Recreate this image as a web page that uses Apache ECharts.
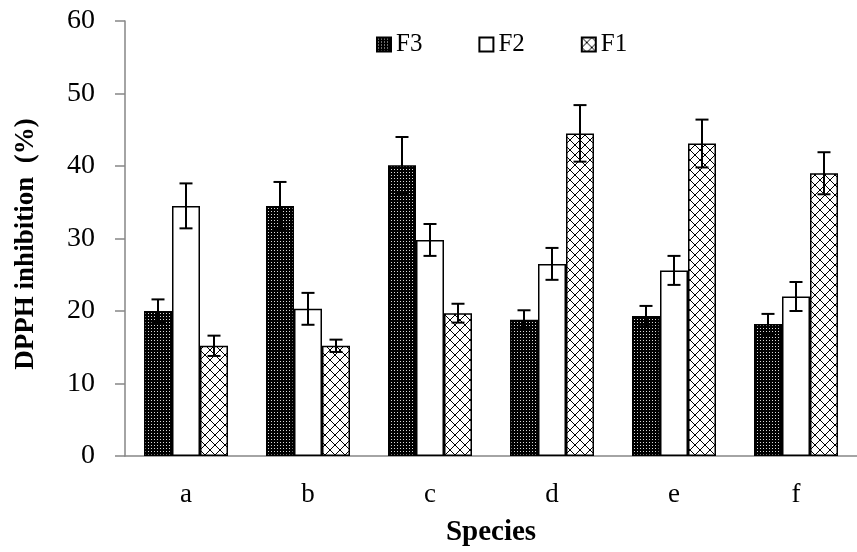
<!DOCTYPE html>
<html>
<head>
<meta charset="utf-8">
<script src="https://cdn.jsdelivr.net/npm/echarts@6/dist/echarts.min.js"></script>
<style>html,body{margin:0;padding:0;background:#fff}#c{width:857px;height:552px}</style>
</head>
<body>
<div id="c"></div>
<script>
const categories = ['a', 'b', 'c', 'd', 'e', 'f'];
const seriesNames = ['F3', 'F2', 'F1'];
const f3Values = [20.0, 34.5, 40.1, 18.8, 19.3, 18.2];
const f2Values = [34.5, 20.3, 29.8, 26.5, 25.6, 22.0];
const f1Values = [15.2, 15.2, 19.7, 44.5, 43.1, 39.0];
const f3Errors = [1.6, 3.3, 3.9, 1.3, 1.4, 1.4];
const f2Errors = [3.1, 2.2, 2.2, 2.2, 2.0, 2.0];
const f1Errors = [1.4, 0.85, 1.3, 3.9, 3.3, 2.9];
const yTicks = { min: 0, max: 60, interval: 10 };

function dotPattern() {
  const c = document.createElement('canvas');
  c.width = 3; c.height = 3;
  const g = c.getContext('2d');
  g.fillStyle = '#000'; g.fillRect(0, 0, 3, 3);
  g.fillStyle = '#d8d8d8'; g.fillRect(1, 1, 1, 1);
  return c;
}
function crossPattern() {
  const c = document.createElement('canvas');
  c.width = 10; c.height = 10;
  const g = c.getContext('2d');
  g.fillStyle = '#fff'; g.fillRect(0, 0, 10, 10);
  g.strokeStyle = '#000'; g.lineWidth = 1;
  g.beginPath();
  g.moveTo(0, 0); g.lineTo(10, 10);
  g.moveTo(10, 0); g.lineTo(0, 10);
  g.stroke();
  return c;
}

const BAR_W = 28;
const valuesList = [f3Values, f2Values, f1Values];
const errorsList = [f3Errors, f2Errors, f1Errors];
const fills = [
  { image: dotPattern(), repeat: 'repeat' },
  '#ffffff',
  { image: crossPattern(), repeat: 'repeat' }
];

const barSeries = seriesNames.map((name, i) => ({
  name: name,
  type: 'bar',
  barWidth: BAR_W,
  barGap: '0%',
  data: valuesList[i],
  itemStyle: { color: fills[i], borderColor: '#000', borderWidth: 1.5 },
  emphasis: { disabled: true },
  z: 2
}));

const errSeries = seriesNames.map((name, i) => ({
  type: 'custom',
  name: name + '_err',
  z: 5,
  silent: true,
  data: categories.map((c, k) => [k, valuesList[i][k], errorsList[i][k]]),
  renderItem: function (params, api) {
    const k = api.value(0), v = api.value(1), e = api.value(2);
    const off = (i - 1) * BAR_W;
    const top = api.coord([k, v + e]);
    const bot = api.coord([k, v - e]);
    const x = top[0] + off;
    const hw = 6.5;
    const st = { stroke: '#000', lineWidth: 2 };
    return {
      type: 'group',
      children: [
        { type: 'line', shape: { x1: x, y1: top[1], x2: x, y2: bot[1] }, style: st },
        { type: 'line', shape: { x1: x - hw, y1: top[1], x2: x + hw, y2: top[1] }, style: st },
        { type: 'line', shape: { x1: x - hw, y1: bot[1], x2: x + hw, y2: bot[1] }, style: st }
      ]
    };
  }
}));

const FONT = '"Liberation Serif", "Times New Roman", serif';
const chart = echarts.init(document.getElementById('c'), null, { renderer: 'canvas' });
chart.setOption({
  animation: false,
  backgroundColor: '#fff',
  textStyle: { fontFamily: FONT },
  legend: {
    data: seriesNames,
    top: 27,
    left: 371,
    icon: 'rect',
    itemWidth: 14,
    itemHeight: 14,
    itemGap: 56,
    textStyle: { fontFamily: FONT, fontSize: 25, color: '#000' }
  },
  grid: { left: 125, top: 21, width: 740, height: 435, containLabel: false },
  xAxis: {
    type: 'category',
    data: categories,
    name: 'Species',
    nameLocation: 'middle',
    nameGap: 62,
    nameTextStyle: { fontFamily: FONT, fontSize: 29, fontWeight: 'bold', color: '#000' },
    axisLine: { lineStyle: { color: '#868686', width: 1.5 } },
    axisTick: { length: 10, lineStyle: { color: '#868686', width: 1.5 } },
    axisLabel: { fontFamily: FONT, fontSize: 27, color: '#000', margin: 25 }
  },
  yAxis: {
    type: 'value',
    min: yTicks.min,
    max: yTicks.max,
    interval: yTicks.interval,
    name: 'DPPH inhibition  (%)',
    nameLocation: 'middle',
    nameGap: 85,
    nameTextStyle: { fontFamily: FONT, fontSize: 27, fontWeight: 'bold', color: '#000', padding: [0, 11, 0, 0] },
    splitLine: { show: false },
    axisLine: { show: true, lineStyle: { color: '#868686', width: 1.5 } },
    axisTick: { show: true, length: 10, lineStyle: { color: '#868686', width: 1.5 } },
    axisLabel: { fontFamily: FONT, fontSize: 28, color: '#000', margin: 30 }
  },
  series: barSeries.concat(errSeries)
});
</script>
</body>
</html>
